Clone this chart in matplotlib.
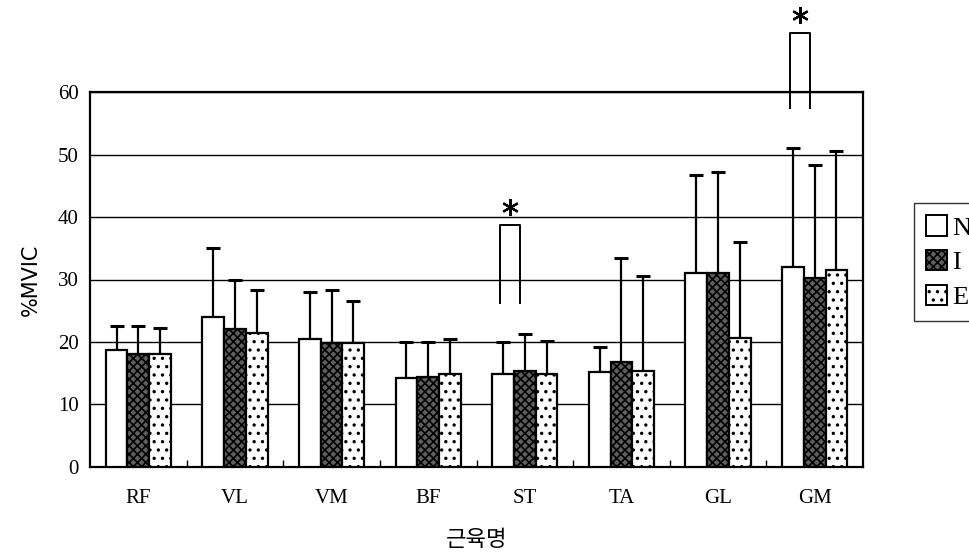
import numpy as np
import matplotlib.pyplot as plt
from matplotlib.patches import Patch

plt.rcParams['hatch.linewidth'] = 1.2

muscles = ['RF', 'VL', 'VM', 'BF', 'ST', 'TA', 'GL', 'GM']
groups = ['N', 'I', 'E']

mean_N = [18.7, 24.0, 20.5, 14.3, 14.8, 15.2, 31.0, 32.0]
mean_I = [18.0, 22.0, 19.8, 14.4, 15.3, 16.8, 31.0, 30.3]
mean_E = [18.0, 21.5, 19.8, 14.8, 14.8, 15.3, 20.7, 31.6]

top_N = [22.5, 35.0, 28.0, 20.0, 20.0, 19.2, 46.8, 51.0]
top_I = [22.5, 30.0, 28.3, 20.0, 21.2, 33.5, 47.2, 48.3]
top_E = [22.2, 28.3, 26.5, 20.5, 20.2, 30.5, 36.0, 50.5]

# significance brackets: muscle index, top, leg bottom
sig_idx = [4, 7]
sig_top = [38.7, 69.5]
sig_bot = [26.2, 57.4]

means = [mean_N, mean_I, mean_E]
tops = [top_N, top_I, top_E]
faces = ['white', '#5e5e5e', 'white']
hatches = [None, 'xxxx', '..']

fig = plt.figure(figsize=(9.7, 5.59), dpi=100)
ax = fig.add_axes([0.0928, 0.1646, 0.7969, 0.6708])

x = np.arange(len(muscles))
w = 0.225
for k in range(3):
    xs = x + (k - 1) * w
    m = np.array(means[k])
    err = np.array(tops[k]) - m
    ax.bar(xs, m, w, color=faces[k], edgecolor='black', hatch=hatches[k],
           linewidth=1.6, zorder=3)
    ax.errorbar(xs, m, yerr=[np.zeros_like(err), err], fmt='none',
                ecolor='black', elinewidth=1.6, capsize=5, capthick=2.2,
                zorder=2)

for i, t, b in zip(sig_idx, sig_top, sig_bot):
    x0 = i - 0.26
    x1 = i - 0.05
    ax.plot([x0, x0, x1, x1], [b, t, t, b], color='black', lw=1.4,
            clip_on=False, zorder=4)
    ax.plot([(x0 + x1) / 2], [t + 2.9], marker=(6, 2, 0), ms=12, mew=1.6,
            color='black', clip_on=False, zorder=4)

ax.set_xlim(-0.5, 7.5)
ax.set_ylim(0, 60)
ax.set_yticks(range(0, 61, 10))
ax.yaxis.grid(True, color='black', lw=1.0)
ax.set_axisbelow(True)
ax.set_xticks(x)
ax.set_xticklabels(muscles, family='Liberation Serif', fontsize=15)
ax.set_xticks(np.arange(0.5, 7.5, 1.0), minor=True)
ax.tick_params(axis='x', which='major', length=0, pad=16)
ax.tick_params(axis='x', which='minor', direction='in', length=5, width=1)
ax.tick_params(axis='y', length=0, pad=8)
for lab in ax.get_yticklabels():
    lab.set_family('Liberation Serif')
    lab.set_fontsize(15)
for s in ax.spines.values():
    s.set_linewidth(1.6)

ax.set_ylabel('%MVIC', family='DejaVu Sans', fontsize=15, labelpad=12)
ax.set_xlabel('근육명', family=['Noto Sans CJK KR', 'DejaVu Sans'],
              fontsize=16, labelpad=14)

handles = [Patch(facecolor=faces[k], edgecolor='black', hatch=hatches[k],
                 linewidth=1.4) for k in range(3)]
fig.legend(handles, groups, loc='upper left', bbox_to_anchor=(0.942, 0.636),
           frameon=True, fancybox=False, edgecolor='black',
           prop={'family': 'Liberation Serif', 'size': 19},
           handlelength=0.8, handleheight=0.8, handletextpad=0.2,
           borderpad=0.45, labelspacing=0.4, borderaxespad=0)

fig.savefig('out.png', dpi=100)
